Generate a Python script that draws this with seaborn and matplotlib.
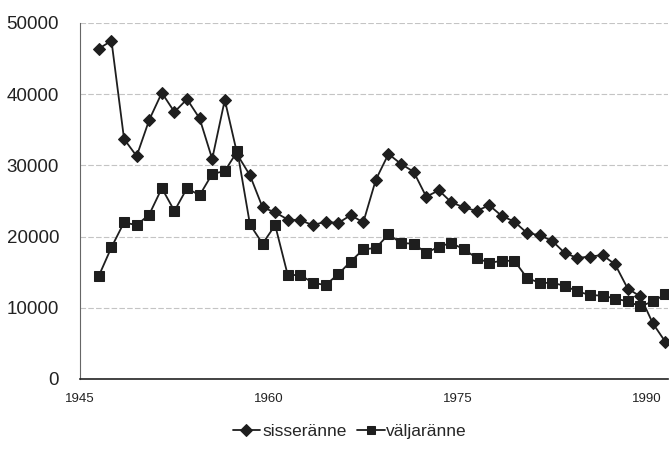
import matplotlib
matplotlib.use("Agg")
import matplotlib.pyplot as plt
import numpy as np
import pandas as pd
import seaborn as sns


years = list(range(1946, 1992))

sisseranne = [46400, 47500, 33700, 31300, 36400, 40200, 37500, 39300, 36600, 30900,
              39200, 31500, 28600, 24100, 23400, 22400, 22300, 21600, 22100, 21900,
              23000, 22000, 28000, 31600, 30200, 29100, 25600, 26500, 24800, 24100,
              23600, 24400, 22900, 22100, 20500, 20200, 19400, 17700, 17000, 17200,
              17400, 16100, 12700, 11600, 7800, 5200]

valjaranne = [14500, 18500, 22000, 21600, 23100, 26800, 23600, 26800, 25800, 28800,
              29200, 32000, 21700, 19000, 21600, 14600, 14600, 13500, 13200, 14700,
              16500, 18200, 18400, 20300, 19100, 19000, 17700, 18600, 19100, 18200,
              17000, 16300, 16600, 16600, 14200, 13500, 13500, 13100, 12300, 11800,
              11700, 11300, 10900, 10200, 10900, 11900]

series_names = ["sisseränne", "väljaränne"]
x_tick_labels = ["1945", "1960", "1975", "1990"]
y_ticks = [0, 10000, 20000, 30000, 40000, 50000]

df = pd.DataFrame({"year": years, series_names[0]: sisseranne, series_names[1]: valjaranne})
long_df = df.melt(id_vars="year", var_name="series", value_name="persons")
# values are yearly totals, drawn at mid-year like the original
long_df["x"] = long_df["year"] + 0.5

sns.set_style("white")
plt.rcParams["font.family"] = ["Liberation Sans", "DejaVu Sans"]

fig = plt.figure(figsize=(6.7, 4.57), dpi=100)
ax = fig.add_axes([0.1194, 0.1707, 0.8776, 0.779])

sns.lineplot(data=long_df, x="x", y="persons", hue="series", style="series",
             markers={"sisseränne": "D", "väljaränne": "s"}, dashes=False,
             palette={"sisseränne": "#1e1e1e", "väljaränne": "#1e1e1e"},
             markersize=6.5, linewidth=1.3, markeredgecolor="#1e1e1e", ax=ax)

ax.set_xlim(1945, 1991.7)
ax.set_ylim(0, 50000)
tick_years = np.arange(1945, 1991, 5)
ax.set_xticks(tick_years)
ax.set_xticklabels([str(t) if str(t) in x_tick_labels else "" for t in tick_years],
                   fontsize=9.5)
ax.set_yticks(y_ticks)
ax.set_yticklabels([str(v) for v in y_ticks], fontsize=13.5, color="#222222")
ax.tick_params(axis="x", direction="out", length=4, width=0.8, color="#333333",
               labelcolor="#222222", pad=6)
ax.tick_params(axis="y", length=0, pad=15)

ax.set_xlabel("")
ax.set_ylabel("")

ax.yaxis.grid(True, color="#c4c4c4", linestyle=(0, (5, 2)), linewidth=0.8)
ax.xaxis.grid(False)
for side in ["top", "right"]:
    ax.spines[side].set_visible(False)
ax.spines["left"].set_color("#666666")
ax.spines["left"].set_linewidth(0.8)
ax.spines["bottom"].set_color("#222222")
ax.spines["bottom"].set_linewidth(1.2)

handles, labels = ax.get_legend_handles_labels()
ax.legend_.remove()
fig.legend(handles, labels, loc="center", bbox_to_anchor=(0.522, 0.055), ncol=2,
           frameon=False, fontsize=12.5, handlelength=1.6, handletextpad=0.1,
           columnspacing=0.6, markerscale=0.9)

fig.savefig("out.png", dpi=100)
